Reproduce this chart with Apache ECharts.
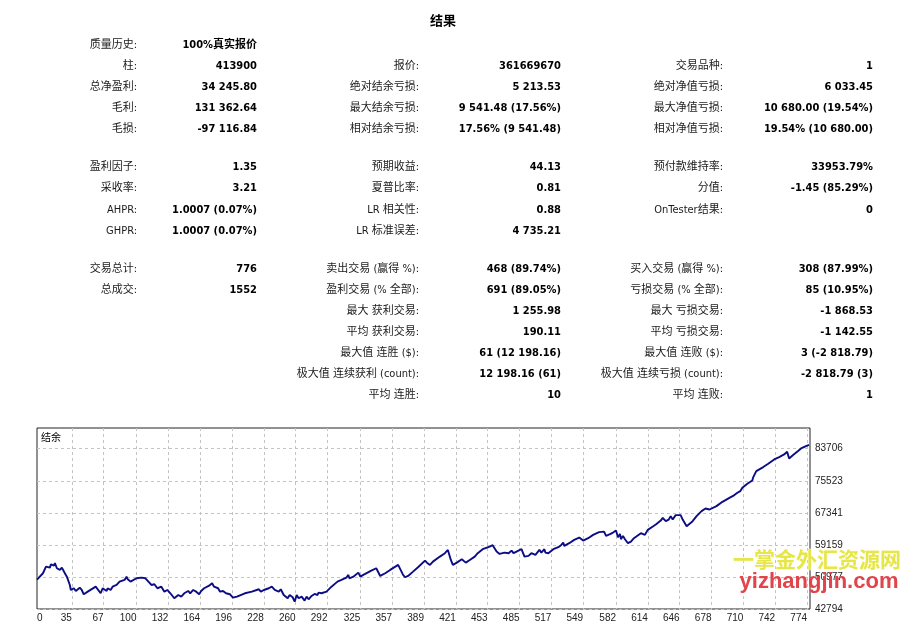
<!DOCTYPE html>
<html>
<head>
<meta charset="utf-8">
<script src="https://cdn.jsdelivr.net/npm/echarts@6/dist/echarts.min.js"></script>
<style>
html,body{margin:0;padding:0;background:#fff;}
#c{width:915px;height:638px;}
</style>
</head>
<body>
<div id="c"></div>
<script>
// ---------------- data ----------------
const reportTitle = '结果';
const chartTitle = '结余';

const col1Labels = ['质量历史:', '柱:', '总净盈利:', '毛利:', '毛损:', '盈利因子:', '采收率:', 'AHPR:', 'GHPR:', '交易总计:', '总成交:'];
const col1Values = ['100%真实报价', '413900', '34 245.80', '131 362.64', '-97 116.84', '1.35', '3.21', '1.0007 (0.07%)', '1.0007 (0.07%)', '776', '1552'];
const col1Rows = [0, 1, 2, 3, 4, 5, 6, 7, 8, 9, 10];

const col2Labels = ['报价:', '绝对结余亏损:', '最大结余亏损:', '相对结余亏损:', '预期收益:', '夏普比率:', 'LR 相关性:', 'LR 标准误差:',
  '卖出交易 (赢得 %):', '盈利交易 (% 全部):', '最大 获利交易:', '平均 获利交易:', '最大值 连胜 ($):', '极大值 连续获利 (count):', '平均 连胜:'];
const col2Values = ['361669670', '5 213.53', '9 541.48 (17.56%)', '17.56% (9 541.48)', '44.13', '0.81', '0.88', '4 735.21',
  '468 (89.74%)', '691 (89.05%)', '1 255.98', '190.11', '61 (12 198.16)', '12 198.16 (61)', '10'];
const col2Rows = [1, 2, 3, 4, 5, 6, 7, 8, 9, 10, 11, 12, 13, 14, 15];

const col3Labels = ['交易品种:', '绝对净值亏损:', '最大净值亏损:', '相对净值亏损:', '预付款维持率:', '分值:', 'OnTester结果:',
  '买入交易 (赢得 %):', '亏损交易 (% 全部):', '最大 亏损交易:', '平均 亏损交易:', '最大值 连败 ($):', '极大值 连续亏损 (count):', '平均 连败:'];
const col3Values = ['1', '6 033.45', '10 680.00 (19.54%)', '19.54% (10 680.00)', '33953.79%', '-1.45 (85.29%)', '0',
  '308 (87.99%)', '85 (10.95%)', '-1 868.53', '-1 142.55', '3 (-2 818.79)', '-2 818.79 (3)', '1'];
const col3Rows = [1, 2, 3, 4, 5, 6, 7, 9, 10, 11, 12, 13, 14, 15];

const xTickLabels = [35, 67, 100, 132, 164, 196, 228, 260, 292, 325, 357, 389, 421, 453, 485, 517, 549, 582, 614, 646, 678, 710, 742, 774];
const xStartLabel = [0];
const yTickLabels = [42794, 50977, 59159, 67341, 75523, 83706];

const tradeNo = [
  0,6,9,11,13,14,17,18,20,23,25,28,30,33,34,37,39,43,45,47,51,59,61,64,66,70,71,74,76,80,83,85,88,90,91,94,96,100,101,105,
  107,109,111,115,118,121,125,128,131,134,138,142,145,148,152,154,157,160,163,165,168,173,176,178,182,184,187,190,192,194,197,
  201,209,216,223,225,228,233,236,239,241,243,245,248,250,252,254,257,259,261,263,266,269,271,273,276,279,282,283,286,288,
  291,296,302,306,311,313,314,318,323,325,328,336,341,343,345,350,355,363,365,368,370,373,378,383,390,392,395,
  398,405,410,413,416,418,422,427,429,431,435,440,443,448,455,458,460,462,465,470,474,477,479,482,487,490,494,497,499,501,
  505,507,510,511,514,519,524,527,529,530,535,540,545,547,549,554,559,565,570,572,576,579,582,584,586,587,589,591,594,597,
  600,607,609,611,614,619,
  622,627,629,632,635,637,639,642,644,647,649,651,653,655,659,663,668,672,674,676,683,689,696,701,704,707,709,714,719,720,
  723,730,735,741,746,751,754,756,760,765,768,773,776
];
const balance = [
  50300,51920,53610,54050,53360,54220,53870,54480,53200,52770,53360,51920,51050,48930,47650,48090,47400,48240,47650,46550,
  47220,48500,48930,46810,48090,47400,48090,47650,48500,48930,49780,49370,50210,51050,50470,49780,50210,50640,50210,50800,
  51310,50640,50210,48930,49110,48090,48500,47220,47650,46810,45530,46370,45940,46810,47400,46810,47650,47220,46550,47400,
  48090,48750,49370,48500,48090,47220,47400,46810,47220,46550,45680,
  45940,46810,47220,47830,47220,47650,48090,48500,47650,48090,47220,47830,46370,46810,45530,46370,45790,44660,46370,45530,
  45940,44920,45940,45270,46120,46630,46370,46960,46810,46370,47220,48500,49780,50210,50800,51490,50640,51050,52080,51050,
  51490,52590,53200,53610,51230,51920,52770,54050,54300,51490,50900,51230,52330,53460,55150,54630,54050,
  54890,56170,57040,57880,55320,54050,54630,55500,55760,54630,55320,56170,57040,58060,58720,59080,58900,57450,56860,57190,
  57040,57700,57040,57450,58060,56170,56350,57040,57190,56600,57880,57190,58060,57190,57040,58060,58570,59160,59750,58900,
  59590,60440,61030,61460,60260,60870,61720,62410,62560,61460,61900,62310,62820,61130,61970,60620,61460,60600,59590,60000,
  60870,62150,62560,61720,63000,63840,
  64350,65370,66060,65220,65630,66500,65630,66750,66240,66750,65630,65220,63940,64200,65220,66500,67780,68440,68800,68190,
  69060,70150,71180,71870,72460,72890,73730,74760,75600,76470,78000,79030,79870,80970,81580,82250,82940,81230,82100,83120,
  83780,84390,84700
];

const watermarkCn = '一掌金外汇资源网';
const watermarkEn = 'yizhangjin.com';

// ---------------- layout ----------------
const ROW_Y = [45, 66, 87, 108, 129, 167, 188, 210, 231, 269, 290, 311, 332, 353, 374, 395];
const COLS = [
  { labelX: 137, valueX: 257 },
  { labelX: 419, valueX: 561 },
  { labelX: 723, valueX: 873 }
];
const TFONT = '"DejaVu Sans Condensed","DejaVu Sans","Noto Sans CJK SC",sans-serif';
const AFONT = '"Liberation Sans","DejaVu Sans",sans-serif';

const graphics = [];
function txt(x, y, text, font, fill, align) {
  graphics.push({
    type: 'text', x: x, y: y, silent: true,
    style: { text: text, font: font, fill: fill, align: align, verticalAlign: 'middle' }
  });
}
txt(443, 22, reportTitle, 'bold 13px ' + TFONT, '#000', 'center');
function addCol(ci, labels, values, rows) {
  rows.forEach(function (r, i) {
    txt(COLS[ci].labelX, ROW_Y[r], labels[i], '11px ' + TFONT, '#1a1a1a', 'right');
    txt(COLS[ci].valueX, ROW_Y[r], values[i], 'bold 11px ' + TFONT, '#000', 'right');
  });
}
addCol(0, col1Labels, col1Values, col1Rows);
addCol(1, col2Labels, col2Values, col2Rows);
addCol(2, col3Labels, col3Values, col3Rows);

txt(41, 437, chartTitle, '10px "Noto Sans CJK SC",sans-serif', '#000', 'left');

graphics.push({
  type: 'text', x: 817, y: 559, z: 100, silent: true,
  style: { text: watermarkCn, font: 'bold 21px "Noto Sans CJK SC",sans-serif', fill: '#e6e64a',
           stroke: 'rgba(255,255,230,0.9)', lineWidth: 1, align: 'center', verticalAlign: 'middle' }
});
graphics.push({
  type: 'text', x: 819, y: 582, z: 100, silent: true,
  style: { text: watermarkEn, font: 'bold 22px "Liberation Sans",sans-serif', fill: '#e0454b',
           align: 'center', verticalAlign: 'middle' }
});

const seriesData = tradeNo.map(function (t, i) { return [t, balance[i]]; });

const chart = echarts.init(document.getElementById('c'), null, { renderer: 'canvas' });
const gridLine = { show: true, lineStyle: { type: [3, 3], color: '#c4c4c4', width: 1 } };
chart.setOption({
  animation: false,
  backgroundColor: '#fff',
  grid: { left: 37, right: 105, top: 428, bottom: 29, show: true, borderColor: '#222', borderWidth: 1, backgroundColor: '#fff' },
  xAxis: [
    {
      type: 'value', min: 0, max: 777, position: 'bottom',
      axisLine: { show: false },
      axisTick: { show: false, customValues: xTickLabels },
      axisLabel: { customValues: xTickLabels, align: 'right', margin: 4, fontSize: 10, color: '#222', fontFamily: AFONT },
      splitLine: gridLine
    },
    {
      type: 'value', min: 0, max: 777, position: 'bottom',
      axisLine: { show: false },
      axisTick: { show: false, customValues: xStartLabel },
      axisLabel: { customValues: xStartLabel, align: 'left', margin: 4, fontSize: 10, color: '#222', fontFamily: AFONT },
      splitLine: { show: false }
    }
  ],
  yAxis: {
    type: 'value', position: 'right', min: 42794, max: 89000, scale: true,
    axisLine: { show: false },
    axisTick: { show: false, customValues: yTickLabels },
    axisLabel: { customValues: yTickLabels, align: 'left', margin: 5, fontSize: 10, color: '#222', fontFamily: AFONT,
                 formatter: function (v) { return String(Math.round(v)); } },
    splitLine: gridLine
  },
  series: [{
    type: 'line', xAxisIndex: 0, data: seriesData, showSymbol: false, symbol: 'none',
    lineStyle: { color: '#0c0c84', width: 1.9 }, z: 5
  }],
  graphic: graphics
});
</script>
</body>
</html>
